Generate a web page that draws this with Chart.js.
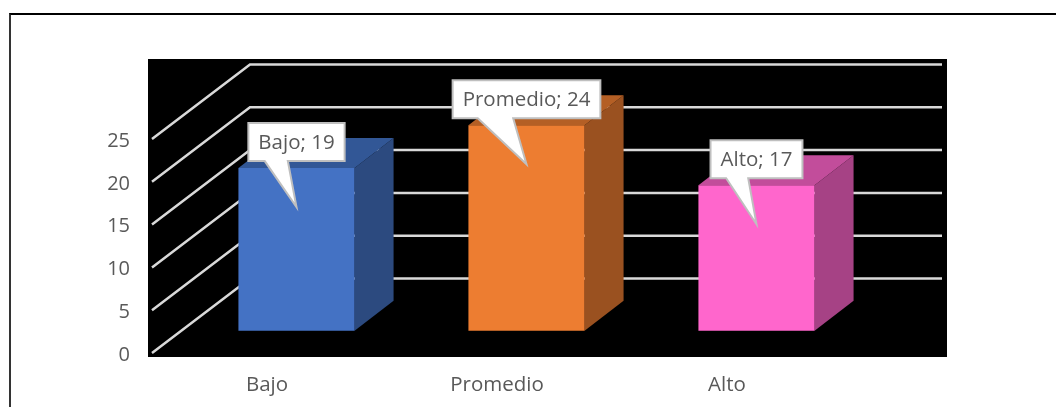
<!DOCTYPE html>
<html>
<head>
<meta charset="utf-8">
<script src="https://cdn.jsdelivr.net/npm/chart.js"></script>
<style>
  html, body { margin: 0; padding: 0; background: #fff; overflow: hidden; }
  #wrap { position: relative; width: 1056px; height: 407px; overflow: hidden; }
  #frame { position: absolute; left: 9px; top: 13px; width: 1060px; height: 400px; border-top: 2px solid #000; border-left: 2px solid #333; box-sizing: border-box; }
  canvas { position: absolute; left: 0; top: 0; }
</style>
</head>
<body>
<div id="wrap">
  <canvas id="chart" width="1056" height="407"></canvas>
  <div id="frame"></div>
</div>
<script>
const categories = ['Bajo', 'Promedio', 'Alto'];
const values = [19, 24, 17];
const yTicks = [0, 5, 10, 15, 20, 25];
const frontColors = ['#4472C4', '#ED7D31', '#FF66CC'];
const sideColors = ['#2C4A7F', '#9A5120', '#A64285'];
const topColors = ['#325796', '#B45F25', '#C24D9B'];

const FONT = '"Open Sans", sans-serif';
const DEPTH_X = 98, DEPTH_Y = 74.5;     // floor depth of the fake 3D box
const BAR_SHIFT_X = 29.5, BAR_SHIFT_Y = 22.3;
const BAR_DEPTH_X = 39, BAR_DEPTH_Y = 30;

// Excel style 3D: black backdrop, slanted gridlines, side and top faces
const box3d = {
  id: 'box3d',
  beforeDraw(chart) {
    const { ctx, chartArea: a } = chart;
    ctx.save();
    ctx.fillStyle = '#000';
    ctx.fillRect(a.left - 4, a.bottom - 294, a.right - a.left + 109, 298);
    ctx.restore();
  },
  beforeDatasetsDraw(chart) {
    const { ctx, chartArea: a, scales } = chart;
    ctx.save();
    ctx.strokeStyle = '#D9D9D9';
    ctx.lineWidth = 2.5;
    yTicks.forEach(t => {
      const y = scales.y.getPixelForValue(t);
      ctx.beginPath();
      ctx.moveTo(a.left, y);
      ctx.lineTo(a.left + DEPTH_X, y - DEPTH_Y);
      ctx.lineTo(a.right + DEPTH_X + 2, y - DEPTH_Y);
      ctx.stroke();
    });
    chart.getDatasetMeta(0).data.forEach((bar, i) => {
      const l = bar.x - bar.width / 2 + BAR_SHIFT_X;
      const r = bar.x + bar.width / 2 + BAR_SHIFT_X;
      const t = bar.y - BAR_SHIFT_Y;
      const b = bar.base - BAR_SHIFT_Y;
      ctx.fillStyle = sideColors[i];
      ctx.beginPath();
      ctx.moveTo(r, t);
      ctx.lineTo(r + BAR_DEPTH_X, t - BAR_DEPTH_Y);
      ctx.lineTo(r + BAR_DEPTH_X, b - BAR_DEPTH_Y);
      ctx.lineTo(r, b);
      ctx.closePath();
      ctx.fill();
      ctx.fillStyle = topColors[i];
      ctx.beginPath();
      ctx.moveTo(l, t);
      ctx.lineTo(l + BAR_DEPTH_X, t - BAR_DEPTH_Y);
      ctx.lineTo(r + BAR_DEPTH_X, t - BAR_DEPTH_Y);
      ctx.lineTo(r, t);
      ctx.closePath();
      ctx.fill();
    });
    ctx.restore();
    // the front face itself is the library's bar, moved into the middle of the floor
    ctx.save();
    ctx.translate(BAR_SHIFT_X, -BAR_SHIFT_Y);
  },
  afterDatasetsDraw(chart) {
    const { ctx } = chart;
    ctx.restore();
    ctx.save();
    ctx.font = '20.5px ' + FONT;
    ctx.textAlign = 'center';
    ctx.textBaseline = 'middle';
    chart.getDatasetMeta(0).data.forEach((bar, i) => {
      const text = categories[i] + '; ' + values[i];
      const tipX = bar.x + BAR_SHIFT_X;
      const tipY = bar.y - BAR_SHIFT_Y + 39;
      const w = ctx.measureText(text).width + 20;
      const left = tipX - w / 2, right = tipX + w / 2;
      const top = tipY - 84, bottom = tipY - 46;
      ctx.beginPath();
      ctx.moveTo(left, top);
      ctx.lineTo(right, top);
      ctx.lineTo(right, bottom);
      ctx.lineTo(tipX - w * 0.09, bottom);
      ctx.lineTo(tipX, tipY);
      ctx.lineTo(tipX - w * 0.33, bottom);
      ctx.lineTo(left, bottom);
      ctx.closePath();
      ctx.fillStyle = '#fff';
      ctx.fill();
      ctx.strokeStyle = '#BFBFBF';
      ctx.lineWidth = 2;
      ctx.stroke();
      ctx.fillStyle = '#595959';
      ctx.fillText(text, tipX, (top + bottom) / 2 + 1);
    });
    ctx.restore();
  }
};

new Chart(document.getElementById('chart'), {
  type: 'bar',
  data: {
    labels: categories,
    datasets: [{
      data: values,
      backgroundColor: frontColors,
      categoryPercentage: 1,
      barPercentage: 0.505,
      clip: false
    }]
  },
  options: {
    responsive: false,
    animation: false,
    layout: { padding: { left: 0, top: 139, right: 214, bottom: 0 } },
    plugins: { legend: { display: false }, tooltip: { enabled: false } },
    scales: {
      x: {
        grid: { display: false },
        border: { display: false },
        ticks: { color: '#595959', padding: 12, font: { family: FONT, size: 20.5 } },
        afterFit: s => { s.height = 54; }
      },
      y: {
        min: 0,
        max: 25,
        grid: { display: false },
        border: { display: false },
        ticks: { stepSize: 5, color: '#595959', padding: 14, labelOffset: 2, font: { family: FONT, size: 20 } },
        afterFit: s => { s.width = 152; }
      }
    }
  },
  plugins: [box3d]
});
</script>
</body>
</html>
